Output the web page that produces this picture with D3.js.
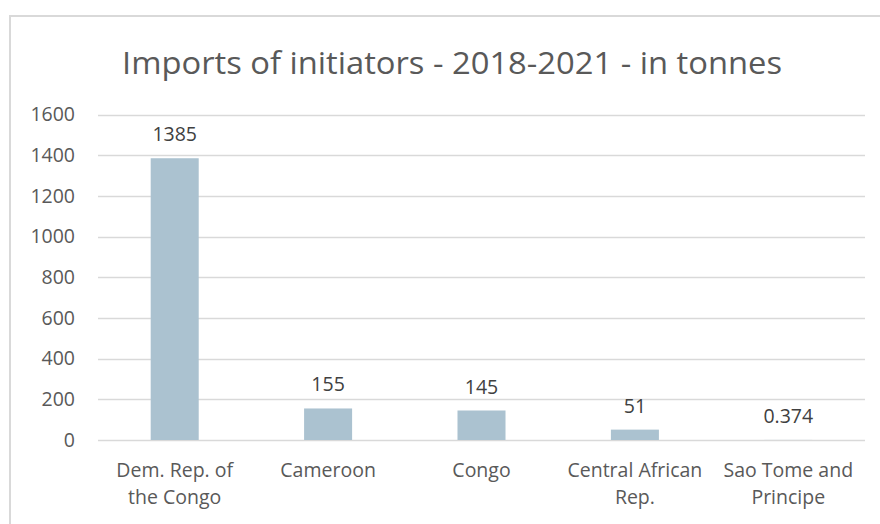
<!DOCTYPE html>
<html>
<head>
<meta charset="utf-8">
<script src="https://cdn.jsdelivr.net/npm/d3@7"></script>
<style>
  body { margin: 0; background: #fff; }
  svg { display: block; font-family: 'Open Sans', sans-serif; }
</style>
</head>
<body>
<div id="chart"></div>
<script>
// data
const categories = [
  ['Dem. Rep. of', 'the Congo'],
  ['Cameroon'],
  ['Congo'],
  ['Central African', 'Rep.'],
  ['Sao Tome and', 'Principe']
];
const values = [1385, 155, 145, 51, 0.374];
const valueLabels = ['1385', '155', '145', '51', '0.374'];
const yTicks = [0, 200, 400, 600, 800, 1000, 1200, 1400, 1600];
const title = 'Imports of initiators - 2018-2021 - in tonnes';

const width = 880, height = 524;
const margin = { top: 114.5, right: 15, bottom: 84, left: 98 };
const fontSize = 19.5;

const svg = d3.select('#chart').append('svg')
    .attr('width', width)
    .attr('height', height);

// chart frame (runs off the right and bottom edges)
svg.append('rect')
    .attr('x', 10).attr('y', 16)
    .attr('width', 900).attr('height', 600)
    .attr('fill', 'none')
    .attr('stroke', '#d9d9d9')
    .attr('stroke-width', 2);

const x = d3.scaleBand()
    .domain(d3.range(values.length))
    .range([margin.left, width - margin.right])
    .paddingInner(0.687)
    .paddingOuter(0.3435);

const y = d3.scaleLinear()
    .domain([0, 1600])
    .range([height - margin.bottom, margin.top]);

// gridlines
svg.append('g')
  .selectAll('line')
  .data(yTicks)
  .join('line')
    .attr('x1', margin.left)
    .attr('x2', width - margin.right)
    .attr('y1', d => Math.round(y(d)) + 0.5)
    .attr('y2', d => Math.round(y(d)) + 0.5)
    .attr('stroke', '#d9d9d9')
    .attr('stroke-width', 1.6);

// y axis labels
const yAxis = svg.append('g')
    .attr('transform', `translate(${margin.left - 23},0)`)
    .call(d3.axisLeft(y).tickValues(yTicks).tickFormat(d3.format('d')).tickSize(0).tickPadding(0));
yAxis.select('.domain').remove();
yAxis.selectAll('text')
    .attr('font-family', "'Open Sans', sans-serif")
    .attr('font-size', fontSize)
    .attr('fill', '#595959');

// bars
svg.append('g')
  .selectAll('rect')
  .data(values)
  .join('rect')
    .attr('x', (d, i) => x(i))
    .attr('y', d => y(d))
    .attr('width', x.bandwidth())
    .attr('height', d => y(0) - y(d))
    .attr('fill', '#abc2d0');

// value labels
svg.append('g')
  .selectAll('text')
  .data(values)
  .join('text')
    .attr('x', (d, i) => x(i) + x.bandwidth() / 2)
    .attr('y', d => y(d) - 17)
    .attr('text-anchor', 'middle')
    .attr('font-size', fontSize)
    .attr('fill', '#404040')
    .text((d, i) => valueLabels[i]);

// category labels
const cat = svg.append('g')
  .selectAll('text')
  .data(categories)
  .join('text')
    .attr('x', (d, i) => x(i) + x.bandwidth() / 2)
    .attr('y', y(0) + 37)
    .attr('text-anchor', 'middle')
    .attr('font-size', fontSize)
    .attr('fill', '#595959');
cat.selectAll('tspan')
  .data(d => d)
  .join('tspan')
    .attr('x', function () { return d3.select(this.parentNode).attr('x'); })
    .attr('dy', (d, i) => i === 0 ? 0 : 27)
    .text(d => d);

// title
svg.append('text')
    .attr('x', 452)
    .attr('y', 74)
    .attr('text-anchor', 'middle')
    .attr('font-size', 31)
    .attr('fill', '#595959')
    .attr('textLength', 660)
    .attr('lengthAdjust', 'spacingAndGlyphs')
    .text(title);
</script>
</body>
</html>
